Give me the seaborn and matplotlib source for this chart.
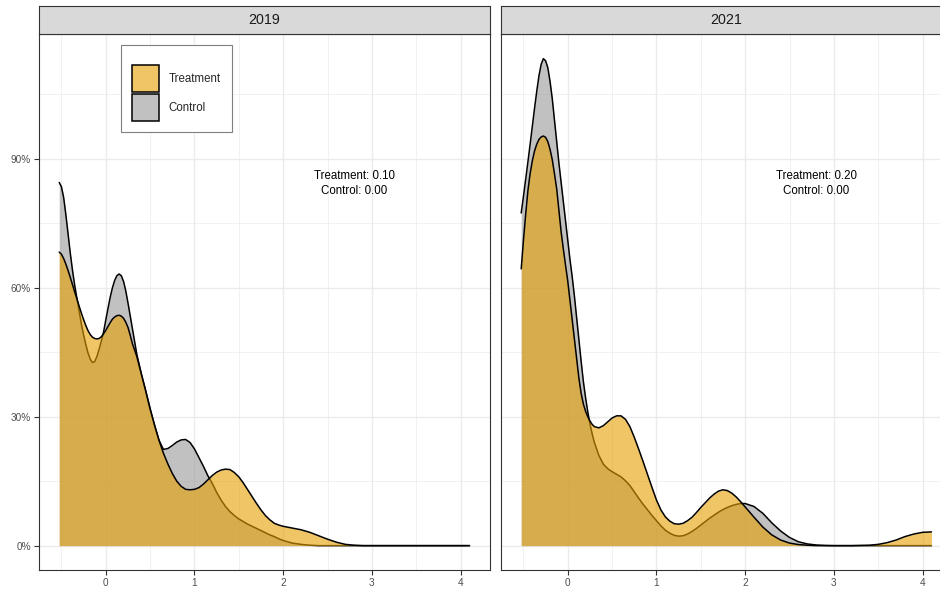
import pandas as pd
import matplotlib
matplotlib.use("Agg")
import matplotlib.pyplot as plt
from matplotlib.patches import Patch
from matplotlib.ticker import MultipleLocator, PercentFormatter
import seaborn as sns

# ==========================================
# Data (density curves)
# ==========================================

X = [-0.525, -0.5, -0.475, -0.45, -0.425, -0.4, -0.375, -0.35, -0.325, -0.3,
     -0.275, -0.25, -0.225, -0.2, -0.175, -0.15, -0.125, -0.1, -0.075, -0.05,
     -0.025, 0.0, 0.025, 0.05, 0.075, 0.1, 0.125, 0.15, 0.175, 0.2, 0.225,
     0.25, 0.275, 0.3,
     0.35, 0.4, 0.45, 0.5, 0.55, 0.6, 0.65, 0.7, 0.75, 0.8, 0.85, 0.9, 0.95,
     1.0, 1.05, 1.1, 1.15, 1.2, 1.25, 1.3, 1.35, 1.4, 1.45, 1.5, 1.55, 1.6,
     1.65, 1.7, 1.75, 1.8, 1.85, 1.9, 1.95, 2.0,
     2.1, 2.2, 2.3, 2.4, 2.5, 2.6, 2.7, 2.8, 2.9, 3.0, 3.1, 3.2, 3.3, 3.4,
     3.5, 3.6, 3.7, 3.8, 3.9, 4.0, 4.1]

CONTROL_2019 = [
    0.845, 0.835, 0.81, 0.77, 0.725, 0.68, 0.64, 0.605, 0.575, 0.545,
    0.515, 0.49, 0.468, 0.448, 0.434, 0.426, 0.428, 0.44, 0.457, 0.476,
    0.497, 0.525, 0.552, 0.578, 0.6, 0.617, 0.628, 0.632, 0.628, 0.615, 0.593,
    0.565, 0.535, 0.505,
    0.445, 0.40, 0.36, 0.318, 0.28, 0.245, 0.224, 0.226, 0.233, 0.241, 0.246, 0.247, 0.24,
    0.225, 0.205, 0.185, 0.163, 0.145, 0.124, 0.106, 0.091, 0.079, 0.07, 0.062, 0.056, 0.05,
    0.045, 0.04, 0.035, 0.03, 0.025, 0.021, 0.016, 0.012,
    0.006, 0.003, 0.001, 0.0, 0.0, 0.0, 0.0, 0.0, 0.0, 0.0, 0.0, 0.0, 0.0, 0.0,
    0.0, 0.0, 0.0, 0.0, 0.0, 0.0, 0.0]

TREATMENT_2019 = [
    0.683, 0.678, 0.668, 0.655, 0.64, 0.624, 0.607, 0.59, 0.574, 0.557,
    0.541, 0.526, 0.512, 0.5, 0.491, 0.485, 0.482, 0.481, 0.482, 0.486,
    0.493, 0.501, 0.51, 0.519, 0.527, 0.532, 0.535, 0.536, 0.534, 0.529, 0.52,
    0.508, 0.49, 0.47,
    0.44, 0.40, 0.36, 0.318, 0.28, 0.245, 0.215, 0.19, 0.168, 0.15, 0.138, 0.131, 0.13,
    0.131, 0.135, 0.143, 0.153, 0.163, 0.171, 0.176, 0.178, 0.177, 0.17, 0.16, 0.146, 0.13,
    0.114, 0.098, 0.083, 0.07, 0.06, 0.052, 0.048, 0.045,
    0.041, 0.037, 0.031, 0.023, 0.015, 0.008, 0.003, 0.001, 0.0, 0.0, 0.0, 0.0, 0.0, 0.0,
    0.0, 0.0, 0.0, 0.0, 0.0, 0.0, 0.0]

CONTROL_2021 = [
    0.774, 0.812, 0.852, 0.892, 0.933, 0.975, 1.017, 1.057, 1.093, 1.12,
    1.133, 1.128, 1.112, 1.08, 1.04, 0.99, 0.94, 0.89, 0.845, 0.80,
    0.755, 0.71, 0.665, 0.625, 0.58, 0.53, 0.48, 0.43, 0.383, 0.345, 0.312,
    0.283, 0.26, 0.24,
    0.21, 0.19, 0.179, 0.172, 0.166, 0.16, 0.151, 0.14, 0.125, 0.11, 0.096, 0.083, 0.07,
    0.058, 0.046, 0.036, 0.029, 0.024, 0.022, 0.023, 0.027, 0.033, 0.04, 0.048, 0.056, 0.064,
    0.071, 0.078, 0.084, 0.089, 0.093, 0.096, 0.098, 0.098,
    0.091, 0.075, 0.053, 0.034, 0.019, 0.009, 0.004, 0.0015, 0.0005, 0.0, 0.0, 0.0, 0.0, 0.0,
    0.0, 0.0, 0.0, 0.0, 0.0, 0.0, 0.0]

TREATMENT_2021 = [
    0.644, 0.71, 0.77, 0.825, 0.865, 0.895, 0.918, 0.934, 0.945, 0.951,
    0.953, 0.95, 0.94, 0.922, 0.898, 0.865, 0.83, 0.78, 0.73, 0.69,
    0.652, 0.615, 0.57, 0.525, 0.48, 0.435, 0.39, 0.355, 0.33, 0.313, 0.30,
    0.29, 0.282, 0.277,
    0.274, 0.279, 0.288, 0.297, 0.302, 0.302, 0.294, 0.277, 0.252, 0.224, 0.195, 0.165, 0.135,
    0.106, 0.083, 0.067, 0.057, 0.051, 0.05, 0.052, 0.058, 0.066, 0.077, 0.089, 0.1, 0.111,
    0.12, 0.127, 0.13, 0.128, 0.122, 0.113, 0.102, 0.09,
    0.066, 0.043, 0.025, 0.013, 0.006, 0.0025, 0.001, 0.0, 0.0, 0.0, 0.0, 0.0, 0.0005, 0.001,
    0.003, 0.007, 0.013, 0.021, 0.027, 0.031, 0.032]

YEARS = ["2019", "2021"]
GROUPS = ["Control", "Treatment"]          # drawing order: control first
SERIES = {
    ("2019", "Control"): CONTROL_2019,
    ("2019", "Treatment"): TREATMENT_2019,
    ("2021", "Control"): CONTROL_2021,
    ("2021", "Treatment"): TREATMENT_2021,
}
NOTES = {
    "2019": "Treatment: 0.10\nControl: 0.00",
    "2021": "Treatment: 0.20\nControl: 0.00",
}
NOTE_X = 2.8
NOTE_Y = 0.843

COLORS = {"Treatment": "#E69F00", "Control": "#999999"}
ALPHA = 0.6

rows = []
for (year, group), vals in SERIES.items():
    for x, y in zip(X, vals):
        rows.append({"year": year, "group": group, "x": x, "density": y})
df = pd.DataFrame(rows)

# ==========================================
# Style
# ==========================================

sns.set_theme(style="white")
plt.rcParams["font.family"] = ["Liberation Sans", "DejaVu Sans"]

W, H = 940, 590
fig = plt.figure(figsize=(W / 100, H / 100), dpi=100)

panel_w = 451.3 / W
panel_b = 1 - 570 / H
panel_h = 535.7 / H
lefts = [38.7 / W, 500.7 / W]
strip_h = 28.3 / H

xmin, xmax = min(X), max(X)
xpad = (xmax - xmin) * 0.05
ymax = df["density"].max()
ypad = ymax * 0.05

border = "#333333"
gridc = "#EBEBEB"

for i, year in enumerate(YEARS):
    ax = fig.add_axes([lefts[i], panel_b, panel_w, panel_h])
    ax.set_facecolor("white")

    z = 2
    for group in GROUPS:
        sub = df[(df["year"] == year) & (df["group"] == group)]
        ax.fill_between(sub["x"], 0, sub["density"], color=COLORS[group],
                        alpha=ALPHA, linewidth=0, zorder=z)
        sns.lineplot(data=sub, x="x", y="density", color="black",
                     linewidth=1.1, ax=ax, zorder=z + 1)
        z += 2

    ax.set_xlim(xmin - xpad, xmax + xpad)
    ax.set_ylim(-ypad, ymax + ypad)
    ax.xaxis.set_major_locator(MultipleLocator(1))
    ax.xaxis.set_minor_locator(MultipleLocator(0.5))
    ax.yaxis.set_major_locator(MultipleLocator(0.30))
    ax.yaxis.set_minor_locator(MultipleLocator(0.15))
    ax.yaxis.set_major_formatter(PercentFormatter(xmax=1, decimals=0))

    ax.set_axisbelow(True)
    ax.grid(which="major", color=gridc, linewidth=1.0)
    ax.grid(which="minor", color=gridc, linewidth=0.5)
    ax.set_xlabel("")
    ax.set_ylabel("")

    ax.tick_params(which="major", length=3.5, width=0.8, color=border,
                   labelsize=7.2, labelcolor="#4D4D4D", pad=2,
                   bottom=True, left=(i == 0), labelleft=(i == 0))
    ax.tick_params(which="minor", length=0)
    for sp in ax.spines.values():
        sp.set_color(border)
        sp.set_linewidth(0.8)

    ax.text(NOTE_X, NOTE_Y, NOTES[year], ha="center", va="center",
            fontsize=8.3, linespacing=1.37, color="black", zorder=7)

    # facet strip
    sax = fig.add_axes([lefts[i], panel_b + panel_h, panel_w, strip_h])
    sax.set_facecolor("#D9D9D9")
    sax.set_xticks([])
    sax.set_yticks([])
    for sp in sax.spines.values():
        sp.set_color(border)
        sp.set_linewidth(0.8)
    sax.text(0.5, 0.5, year, ha="center", va="center", fontsize=10.3,
             color="#1A1A1A", transform=sax.transAxes)

    if i == 0:
        handles = [
            Patch(facecolor=matplotlib.colors.to_rgba(COLORS[g], ALPHA),
                  edgecolor="black", linewidth=1.1, label=g)
            for g in ["Treatment", "Control"]
        ]
        leg = ax.legend(handles=handles, loc="upper left",
                        bbox_to_anchor=(0.1817, 0.980), borderaxespad=0,
                        fontsize=8.3, title=" ", title_fontsize=5,
                        handlelength=2.35, handleheight=3.2,
                        handletextpad=0.84, labelspacing=0.18,
                        borderpad=0.95, fancybox=False, framealpha=1,
                        edgecolor="#7F7F7F")
        leg.get_frame().set_linewidth(0.8)
        leg.set_zorder(8)

fig.savefig("out.png", dpi=100)
